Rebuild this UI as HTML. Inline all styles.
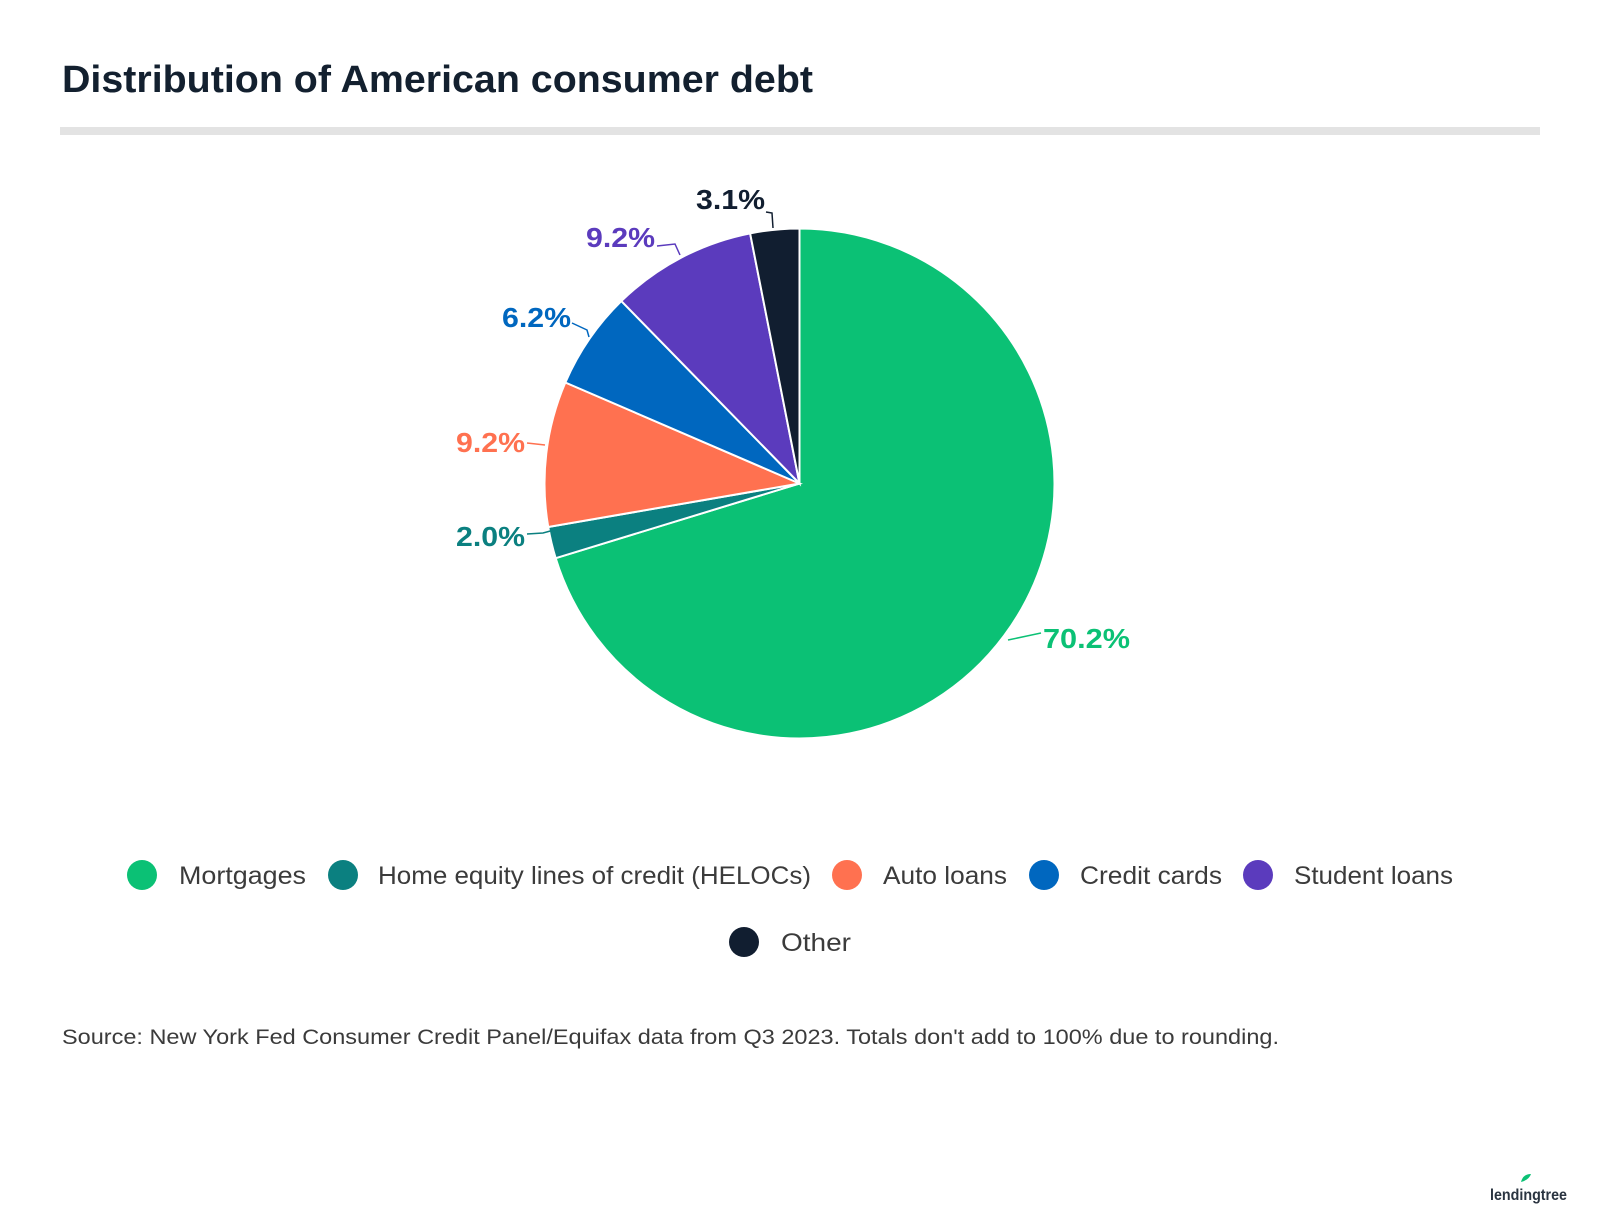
<!DOCTYPE html>
<html><head><meta charset="utf-8"><style>
body{margin:0;background:#fff;width:1600px;height:1224px;overflow:hidden;font-family:"Liberation Sans",sans-serif}
</style></head><body>
<svg id="s" width="1600" height="1224" xmlns="http://www.w3.org/2000/svg" font-family="Liberation Sans, sans-serif">
<text x="62" y="92" font-size="38" font-weight="bold" fill="#13202f" textLength="751" lengthAdjust="spacingAndGlyphs">Distribution of American consumer debt</text>
<rect x="60" y="127" width="1480" height="8" fill="#e3e3e3"/>
<g id="pie"></g>
<g font-size="28" font-weight="bold">
<polyline points="1008,640 1041,633" stroke="#0bc175" stroke-width="1.5" fill="none"/>
<text x="1043" y="648" fill="#0bc175" textLength="87" lengthAdjust="spacingAndGlyphs">70.2%</text>
<polyline points="527,534 543,533 554,530" stroke="#0b8080" stroke-width="1.5" fill="none"/>
<text x="525" y="546" text-anchor="end" fill="#0b8080" textLength="69" lengthAdjust="spacingAndGlyphs">2.0%</text>
<polyline points="527,443 545,445" stroke="#ff7150" stroke-width="1.5" fill="none"/>
<text x="525" y="452" text-anchor="end" fill="#ff7150" textLength="69" lengthAdjust="spacingAndGlyphs">9.2%</text>
<polyline points="572,323 587,330 589,337" stroke="#0067bf" stroke-width="1.5" fill="none"/>
<text x="571" y="327" text-anchor="end" fill="#0067bf" textLength="69" lengthAdjust="spacingAndGlyphs">6.2%</text>
<polyline points="657,246 675,244 680,255" stroke="#5b3bbd" stroke-width="1.5" fill="none"/>
<text x="655" y="247" text-anchor="end" fill="#5b3bbd" textLength="69" lengthAdjust="spacingAndGlyphs">9.2%</text>
<polyline points="766,212 772,213 773,228" stroke="#111e30" stroke-width="1.5" fill="none"/>
<text x="765" y="209" text-anchor="end" fill="#111e30" textLength="69" lengthAdjust="spacingAndGlyphs">3.1%</text>
</g>
<g font-size="25" fill="#3b3b3b">
<circle cx="142" cy="875" r="15" fill="#0bc175"/><text x="179" y="884" textLength="127" lengthAdjust="spacingAndGlyphs">Mortgages</text>
<circle cx="343" cy="875" r="15" fill="#0b8080"/><text x="378" y="884" textLength="433" lengthAdjust="spacingAndGlyphs">Home equity lines of credit (HELOCs)</text>
<circle cx="847" cy="875" r="15" fill="#ff7150"/><text x="883" y="884" textLength="124" lengthAdjust="spacingAndGlyphs">Auto loans</text>
<circle cx="1044" cy="875" r="15" fill="#0067bf"/><text x="1080" y="884" textLength="142" lengthAdjust="spacingAndGlyphs">Credit cards</text>
<circle cx="1258" cy="875" r="15" fill="#5b3bbd"/><text x="1294" y="884" textLength="159" lengthAdjust="spacingAndGlyphs">Student loans</text>
<circle cx="744" cy="942" r="15" fill="#111e30"/><text x="781" y="951" textLength="70" lengthAdjust="spacingAndGlyphs">Other</text>
</g>
<text x="62" y="1044" font-size="21" fill="#3b3b3b" textLength="1217" lengthAdjust="spacingAndGlyphs">Source: New York Fed Consumer Credit Panel/Equifax data from Q3 2023. Totals don't add to 100% due to rounding.</text>
<path d="M1521 1182 q8 -2 10 -8 q-8 0 -10 8z" fill="#0bc175"/>
<text x="1490" y="1200" font-size="16" font-weight="bold" fill="#2a3440" textLength="77" lengthAdjust="spacingAndGlyphs">lendingtree</text>
</svg>
<script>
var v=[70.2,2.0,9.2,6.2,9.2,3.1],c=["#0bc175","#0b8080","#ff7150","#0067bf","#5b3bbd","#111e30"];
var t=v.reduce((a,b)=>a+b),cx=799.5,cy=483.5,r=255,a=0,g=document.getElementById("pie"),h="";
for(var i=0;i<v.length;i++){var b=a+v[i]/t*2*Math.PI;
var x1=cx+r*Math.sin(a),y1=cy-r*Math.cos(a),x2=cx+r*Math.sin(b),y2=cy-r*Math.cos(b);
h+='<path d="M'+cx+' '+cy+' L'+x1+' '+y1+' A'+r+' '+r+' 0 '+((b-a)>Math.PI?1:0)+' 1 '+x2+' '+y2+'Z" fill="'+c[i]+'" stroke="#fff" stroke-width="2"/>';a=b;}
g.innerHTML=h;
</script>
</body></html>
